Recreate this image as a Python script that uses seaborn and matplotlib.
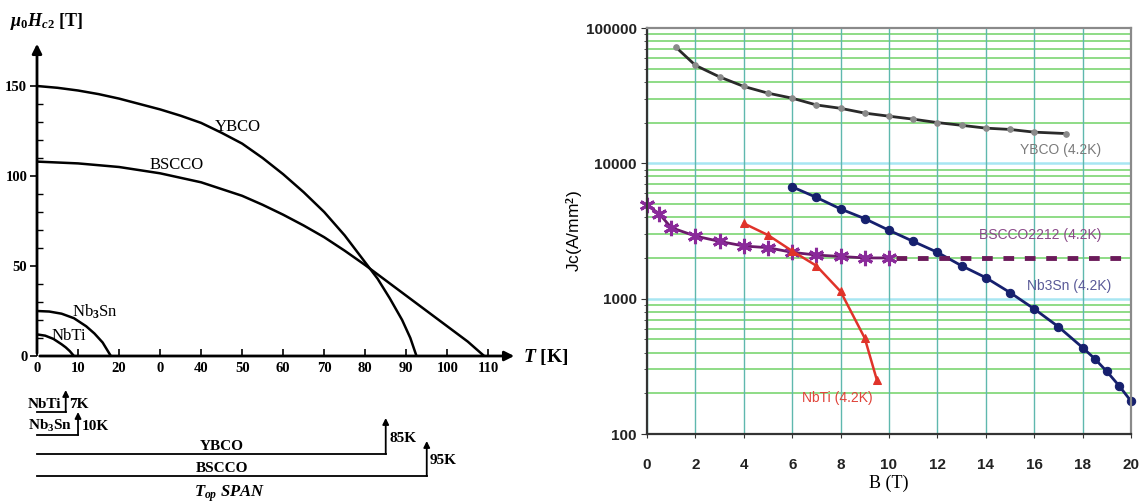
import numpy as np
import pandas as pd
import matplotlib
matplotlib.use('Agg')
import matplotlib.pyplot as plt
import seaborn as sns
from matplotlib.ticker import FixedLocator, FixedFormatter, NullFormatter

# ---------------- Left panel data: upper critical field vs temperature ----------------
T_ybco = [0, 5, 10, 15, 20, 25, 30, 35, 40, 45, 50, 55, 60, 65, 70, 75, 80, 83, 86, 89, 91, 92.5]
H_ybco = [150, 149, 147.5, 145.5, 143, 140, 137, 133.5, 129.5, 124, 118, 110, 101, 91, 80,
          67, 52, 43, 32, 20, 10, 0]
T_bscco = [0, 10, 20, 30, 40, 50, 55, 60, 65, 70, 75, 80, 85, 90, 95, 100, 105, 109]
H_bscco = [108, 107, 105, 101.5, 96.5, 89, 84, 78.5, 72.5, 66, 58.5, 50.5, 42, 33.5, 25,
           16.5, 8, 0]
T_nb3sn = [0, 3, 6, 9, 12, 14, 16, 18]
H_nb3sn = [25, 24.7, 23.5, 21, 16.5, 12.5, 7.5, 0]
T_nbti = [0, 2, 4, 6, 7, 8, 9]
H_nbti = [12, 11.3, 9.5, 6.5, 4.8, 2.7, 0]

left_xticks = [0, 10, 20, 30, 40, 50, 60, 70, 80, 90, 100, 110]
left_xticklabels = ['0', '10', '20', '0', '40', '50', '60', '70', '80', '90', '100', '110']
left_yticks = [0, 50, 100, 150]

# operating temperature spans
span_names = ['NbTi', 'Nb$_3$Sn', 'YBCO', 'BSCCO']
span_temps = [7, 10, 85, 95]
span_labels = ['7K', '10K', '85K', '95K']

# ---------------- Right panel data: Jc vs B at 4.2 K ----------------
B_ybco = [1.2, 2, 3, 4, 5, 6, 7, 8, 9, 10, 11, 12, 13, 14, 15, 16, 17.3]
J_ybco = [72000, 53000, 43500, 37000, 33000, 30300, 27000, 25500, 23500, 22300,
          21200, 20000, 19100, 18200, 17800, 17000, 16600]
B_nb3sn = [6, 7, 8, 9, 10, 11, 12, 13, 14, 15, 16, 17, 18, 18.5, 19, 19.5, 20]
J_nb3sn = [6700, 5600, 4600, 3900, 3200, 2650, 2200, 1750, 1430, 1110, 840, 620,
           435, 360, 290, 228, 175]
B_bscco = [0, 0.5, 1, 2, 3, 4, 5, 6, 7, 8, 9, 10]
J_bscco = [4900, 4250, 3350, 2900, 2650, 2450, 2380, 2200, 2100, 2050, 2000, 2000]
B_bscco_ext = [10.3, 20]
J_bscco_ext = [2000, 2000]
B_nbti = [4, 5, 6, 7, 8, 9, 9.5]
J_nbti = [3600, 2950, 2250, 1750, 1130, 510, 250]

right_yticks = [100, 1000, 10000, 100000]
right_yticklabels = ['100', '1000', '10000', '100000']
right_xticks = list(range(0, 21, 2))

plt.rcParams['mathtext.fontset'] = 'custom'
plt.rcParams['mathtext.rm'] = 'Liberation Serif:bold'
plt.rcParams['mathtext.it'] = 'Liberation Serif:bold:italic'
plt.rcParams['mathtext.bf'] = 'Liberation Serif:bold'

W, H = 1144, 504
fig = plt.figure(figsize=(W / 100, H / 100), dpi=100)

def px_axes(x0, y0, x1, y1):
    return fig.add_axes([x0 / W, 1 - y1 / H, (x1 - x0) / W, (y1 - y0) / H])

serif = 'Liberation Serif'

# ---------------- Left: Hc2(T) ----------------
ax1 = px_axes(37, 41, 517, 356)
for xs, ys in [(T_ybco, H_ybco), (T_bscco, H_bscco), (T_nb3sn, H_nb3sn), (T_nbti, H_nbti)]:
    sns.lineplot(x=xs, y=ys, ax=ax1, color='black', linewidth=1.8, estimator=None, sort=False)
ax1.set_xlim(0, 117)
ax1.set_ylim(0, 175)
for s in ax1.spines.values():
    s.set_visible(False)
ax1.annotate('', xy=(1.0, 0), xytext=(0, 0), xycoords='axes fraction',
             arrowprops=dict(arrowstyle='-|>', lw=2, color='black', mutation_scale=14))
ax1.annotate('', xy=(0, 1.0), xytext=(0, 0), xycoords='axes fraction',
             arrowprops=dict(arrowstyle='-|>', lw=2, color='black', mutation_scale=14))
ax1.set_xticks(left_xticks)
ax1.set_xticklabels(left_xticklabels)
ax1.set_yticks(left_yticks)
ax1.yaxis.set_minor_locator(FixedLocator([v for v in range(10, 160, 10) if v % 50]))
ax1.tick_params(axis='x', direction='in', length=5, width=1.2, pad=4, labelsize=10.5)
ax1.tick_params(axis='y', which='major', direction='out', length=5, width=1.2, pad=2, labelsize=10.5)
ax1.tick_params(axis='y', which='minor', direction='in', length=4, width=1)
for lab in ax1.get_xticklabels() + ax1.get_yticklabels():
    lab.set_fontfamily(serif)
    lab.set_fontweight('bold')
ax1.set_xlabel('')
ax1.set_ylabel('')
fig.text(10 / W, 1 - 22 / H, r'$\mu_0H_{c2}$ [T]', fontsize=13, fontfamily=serif,
         fontweight='bold', va='center', ha='left')
fig.text(523 / W, 1 - 357 / H, r'$T$ [K]', fontsize=14, fontfamily=serif,
         fontweight='bold', va='center', ha='left')
txt = dict(fontfamily=serif, fontsize=12, ha='center', va='center')
ax1.text(49, 127, 'YBCO', **txt)
ax1.text(34, 106, 'BSCCO', **txt)
ax1.text(14.2, 24.5, 'Nb$_3$Sn', **txt)
ax1.text(7.8, 11, 'NbTi', **txt)

# ---------------- Left bottom: operating spans ----------------
ax3 = px_axes(37, 380, 517, 504)
ax3.set_xlim(0, 117)
ax3.set_ylim(504, 380)
ax3.axis('off')
rows = [(412, 390), (435, 412), (454, 418), (476, 441)]
lab_y = [405, 427, 438, 460]
for name, t, lab, (yb, yt), ly in zip(span_names, span_temps, span_labels, rows, lab_y):
    ax3.plot([0, t], [yb, yb], color='black', lw=1.3, clip_on=False)
    ax3.annotate('', xy=(t, yt), xytext=(t, yb), xycoords='data',
                 arrowprops=dict(arrowstyle='-|>', lw=1.3, color='black', mutation_scale=9,
                                 shrinkA=0, shrinkB=0), annotation_clip=False)
    ax3.text(t + 0.8, ly, lab, fontfamily=serif, fontweight='bold', fontsize=11,
             ha='left', va='center', clip_on=False)
for name, t, (yb, yt) in zip(span_names[:2], span_temps[:2], rows[:2]):
    ax3.text(-2.3, yb - 1, name, fontfamily=serif, fontweight='bold', fontsize=11,
             ha='left', va='bottom', clip_on=False)
ax3.text(45, 446, 'YBCO', fontfamily=serif, fontweight='bold', fontsize=11, ha='center', va='center')
ax3.text(45, 468, 'BSCCO', fontfamily=serif, fontweight='bold', fontsize=11, ha='center', va='center')
ax3.text(47, 494, r'$T_{op}$ SPAN', fontfamily=serif, fontweight='bold', fontstyle='italic',
         fontsize=12, ha='center', va='center')

# ---------------- Right: Jc(B) ----------------
ax2 = px_axes(647, 28, 1131, 434)
ax2.set_yscale('log')
ax2.set_xlim(0, 20)
ax2.set_ylim(100, 100000)
for dec in [100, 1000, 10000]:
    for m in range(2, 10):
        ax2.axhline(dec * m, color='#8edc86', lw=1.4, zorder=0)
for dec in [1000, 10000]:
    ax2.axhline(dec, color='#a8e6f2', lw=1.8, zorder=0)
for xv in right_xticks:
    ax2.axvline(xv, color='#5fb8ae', lw=1.0, zorder=0)

series = [
    (B_ybco, J_ybco, dict(color='#2a2a2a', linewidth=2, marker='o', markersize=4,
                          markerfacecolor='#8a8a8a', markeredgecolor='#8a8a8a')),
    (B_nb3sn, J_nb3sn, dict(color='#16206e', linewidth=2, marker='o', markersize=6,
                            markerfacecolor='#16206e', markeredgecolor='#16206e')),
    (B_bscco, J_bscco, dict(color='#6b1a6b', linewidth=2, marker=(6, 2, 0), markersize=11,
                            markeredgewidth=2.2, markeredgecolor='#8a2a9a')),
    (B_bscco_ext, J_bscco_ext, dict(color='#6b1a5a', linewidth=3.5, linestyle=(0, (2.2, 2.2)))),
    (B_nbti, J_nbti, dict(color='#e0332a', linewidth=1.8, marker='^', markersize=6,
                          markerfacecolor='#e0332a', markeredgecolor='#e0332a')),
]
for xs, ys, kw in series:
    sns.lineplot(x=xs, y=ys, ax=ax2, estimator=None, sort=False, clip_on=False, **kw)

ax2.yaxis.set_major_locator(FixedLocator(right_yticks))
ax2.yaxis.set_major_formatter(FixedFormatter(right_yticklabels))
ax2.yaxis.set_minor_formatter(NullFormatter())
ax2.set_xticks(right_xticks)
ax2.tick_params(axis='both', which='major', labelsize=11, length=4, color='#333333')
ax2.tick_params(axis='y', which='minor', length=2.5, color='#333333')
ax2.tick_params(axis='x', length=3, pad=14)
for lab in ax2.get_xticklabels() + ax2.get_yticklabels():
    lab.set_fontfamily('Liberation Sans')
    lab.set_fontweight('bold')
    lab.set_color('#222222')
for side in ['left', 'bottom']:
    ax2.spines[side].set_color('#333333')
    ax2.spines[side].set_linewidth(1.6)
for side in ['top', 'right']:
    ax2.spines[side].set_color('#8a8a8a')
    ax2.spines[side].set_linewidth(1.6)
ax2.set_xlabel('B (T)', fontfamily=serif, fontsize=13)
ax2.set_ylabel('Jc(A/mm$^2$)', fontfamily='Liberation Sans', fontsize=12.5)
ax2.yaxis.set_label_coords(-0.128, 0.5)
ax2.xaxis.set_label_coords(0.5, -0.1)

lab_kw = dict(fontfamily='Liberation Sans', fontsize=10, ha='left', va='center')
ax2.text(15.4, 12500, 'YBCO (4.2K)', color='#7a7a7a', **lab_kw)
ax2.text(13.7, 2930, 'BSCCO2212 (4.2K)', color='#8a4a88', **lab_kw)
ax2.text(15.7, 1250, 'Nb3Sn (4.2K)', color='#5a5a98', **lab_kw)
ax2.text(6.4, 185, 'NbTi (4.2K)', color='#e0443a', **lab_kw)

fig.savefig('out.png', dpi=100)
